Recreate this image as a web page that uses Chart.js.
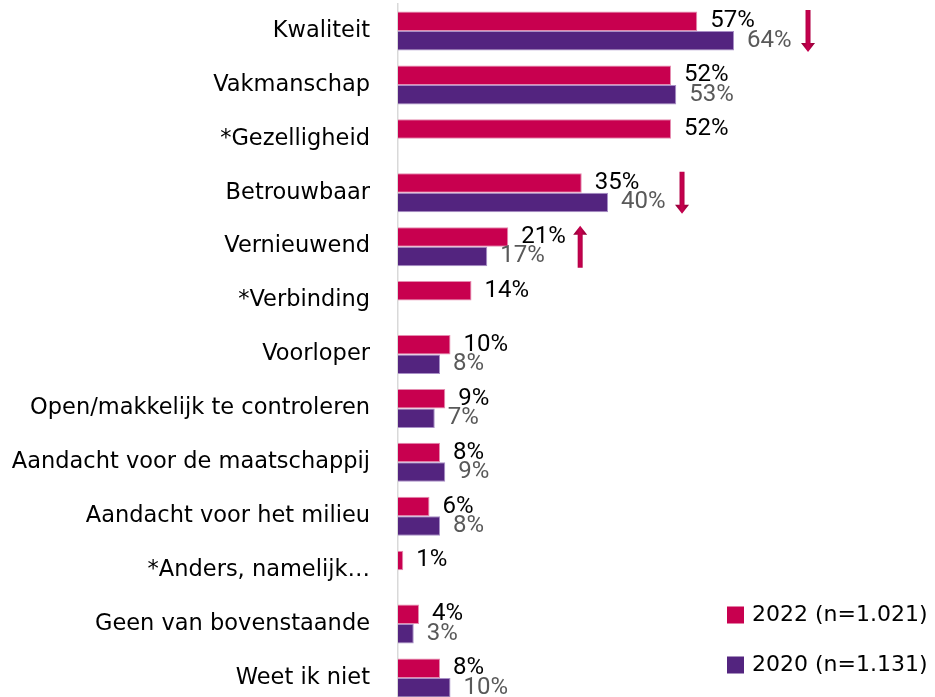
<!DOCTYPE html>
<html>
<head>
<meta charset="utf-8">
<script src="https://cdn.jsdelivr.net/npm/chart.js@4.4.1/dist/chart.umd.min.js"></script>
<style>
html,body{margin:0;padding:0;background:#fff;overflow:hidden;}
#wrap{position:absolute;left:0;top:0;width:935px;height:706px;}
</style>
</head>
<body>
<div id="wrap"><canvas id="c"></canvas></div>
<script>
const categories = ['Kwaliteit','Vakmanschap','*Gezelligheid','Betrouwbaar','Vernieuwend','*Verbinding','Voorloper','Open/makkelijk te controleren','Aandacht voor de maatschappij','Aandacht voor het milieu','*Anders, namelijk…','Geen van bovenstaande','Weet ik niet'];
const values2022 = [57,52,52,35,21,14,10,9,8,6,1,4,8];
const values2020 = [64,53,null,40,17,null,8,7,9,8,null,3,10];
const seriesLabels = ['2022 (n=1.021)','2020 (n=1.131)'];
const seriesColors = ['#c8004f','#53247f'];
const seriesBorders = ['#e58cb0','#a88fc6'];
const labelColors = ['#000000','#595959'];
// significance arrows: category, x position (in % units), direction
const arrowCats = ['Kwaliteit','Betrouwbaar','Vernieuwend'];
const arrowX = [78.1, 54.1, 34.7];
const arrowDir = ['down','down','up'];

const valueLabels = {
  id:'valueLabels',
  afterDatasetsDraw(chart){
    const ctx = chart.ctx;
    ctx.save();
    ctx.font = '24px Roboto';
    ctx.textBaseline = 'middle';
    ctx.textAlign = 'left';
    chart.data.datasets.forEach((ds, di) => {
      const meta = chart.getDatasetMeta(di);
      meta.data.forEach((bar, i) => {
        const v = ds.data[i];
        if (v === null || v === undefined) return;
        ctx.fillStyle = labelColors[di];
        ctx.fillText(v + '%', bar.x + 13, bar.y);
      });
    });
    ctx.restore();
  }
};

const arrows = {
  id:'arrows',
  afterDatasetsDraw(chart){
    const ctx = chart.ctx;
    const xs = chart.scales.x, ys = chart.scales.y;
    ctx.save();
    arrowCats.forEach((cat, k) => {
      const idx = categories.indexOf(cat);
      const cx = xs.getPixelForValue(arrowX[k]);
      const cy = ys.getPixelForValue(idx);
      const top = cy - 21, bot = cy + 21;
      const sw = 2.5, hw = 7, hh = 9;
      const g = ctx.createLinearGradient(cx - hw, 0, cx + hw, 0);
      g.addColorStop(0, '#8a0033');
      g.addColorStop(0.5, '#c8004f');
      g.addColorStop(1, '#8a0033');
      ctx.fillStyle = g;
      ctx.beginPath();
      if (arrowDir[k] === 'down') {
        ctx.moveTo(cx - sw, top);
        ctx.lineTo(cx + sw, top);
        ctx.lineTo(cx + sw, bot - hh);
        ctx.lineTo(cx + hw, bot - hh);
        ctx.lineTo(cx, bot);
        ctx.lineTo(cx - hw, bot - hh);
        ctx.lineTo(cx - sw, bot - hh);
      } else {
        ctx.moveTo(cx - sw, bot);
        ctx.lineTo(cx + sw, bot);
        ctx.lineTo(cx + sw, top + hh);
        ctx.lineTo(cx + hw, top + hh);
        ctx.lineTo(cx, top);
        ctx.lineTo(cx - hw, top + hh);
        ctx.lineTo(cx - sw, top + hh);
      }
      ctx.closePath();
      ctx.fill();
    });
    ctx.restore();
  }
};

const legendPlugin = {
  id:'customLegend',
  afterDraw(chart){
    const ctx = chart.ctx;
    ctx.save();
    ctx.font = '22px "DejaVu Sans"';
    ctx.textBaseline = 'middle';
    ctx.textAlign = 'left';
    chart.data.datasets.forEach((ds, i) => {
      const y = 615 + i * 50;
      ctx.fillStyle = ds.backgroundColor;
      ctx.fillRect(727, y - 8.5, 17, 17);
      ctx.fillStyle = '#000';
      ctx.fillText(ds.label, 752, y);
    });
    ctx.restore();
  }
};

new Chart(document.getElementById('c'), {
  type:'bar',
  data:{
    labels: categories,
    datasets:[
      {label: seriesLabels[0], data: values2022, backgroundColor: seriesColors[0], borderColor: seriesBorders[0]},
      {label: seriesLabels[1], data: values2020, backgroundColor: seriesColors[1], borderColor: seriesBorders[1]}
    ]
  },
  options:{
    indexAxis:'y',
    responsive:true,
    maintainAspectRatio:false,
    animation:false,
    events:[],
    layout:{padding:{top:4,bottom:1,left:0,right:12}},
    datasets:{bar:{categoryPercentage:0.723,barPercentage:1.0,borderWidth:1}},
    plugins:{legend:{display:false},tooltip:{enabled:false}},
    scales:{
      x:{min:0,max:100,display:false},
      y:{
        afterFit(s){ s.width = 398; s.paddingTop = 0; s.paddingBottom = 0; },
        grid:{display:false,drawTicks:false},
        border:{display:true,color:'#d9d9d9',width:1.5},
        ticks:{padding:28,color:'#000',font:{family:'"DejaVu Sans"',size:22.5}}
      }
    }
  },
  plugins:[valueLabels, arrows, legendPlugin]
});
</script>
</body>
</html>
